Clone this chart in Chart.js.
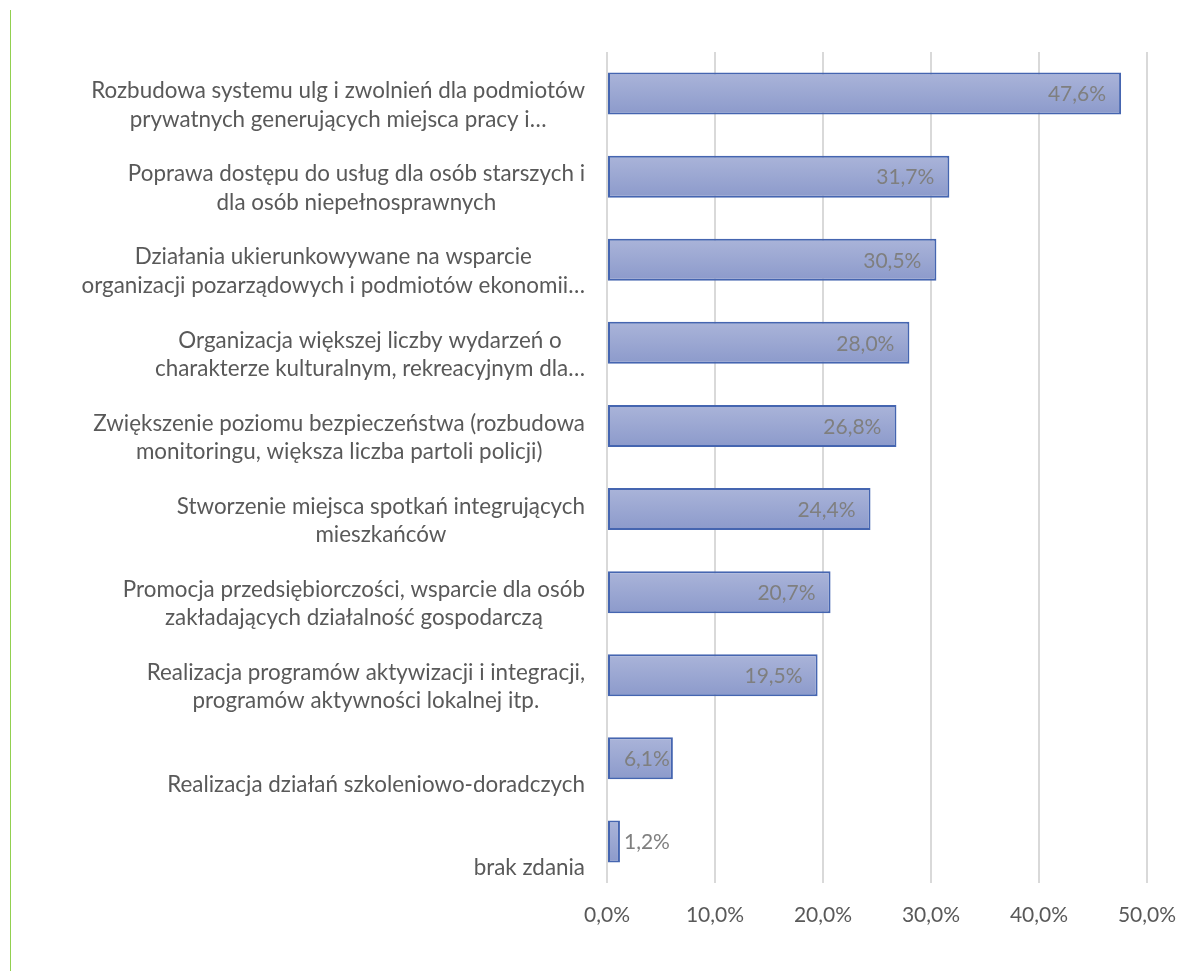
<!DOCTYPE html>
<html lang="pl">
<head>
<meta charset="utf-8">
<title>Wykres</title>
<script src="https://cdn.jsdelivr.net/npm/chart.js@4.4.1/dist/chart.umd.min.js"></script>
<style>
  html, body { margin: 0; padding: 0; background: #fff; }
  #wrap { position: relative; width: 1177px; height: 971px; }
  #edge { position: absolute; left: 10px; top: 10px; width: 0; height: 961px; border-left: 1px solid #92d050; }
  canvas { position: absolute; left: 0; top: 0; }
</style>
</head>
<body>
<div id="wrap">
  <div id="edge"></div>
  <canvas id="chart" width="1177" height="971"></canvas>
</div>
<script>
// ── Data ──────────────────────────────────────────────────
const categories = [
  ['Rozbudowa systemu ulg i zwolnień dla podmiotów', 'prywatnych generujących miejsca pracy i…'],
  ['Poprawa dostępu do usług dla osób starszych i', 'dla osób niepełnosprawnych'],
  ['Działania ukierunkowywane na wsparcie', 'organizacji pozarządowych i podmiotów ekonomii…'],
  ['Organizacja większej liczby wydarzeń o', 'charakterze kulturalnym, rekreacyjnym dla…'],
  ['Zwiększenie poziomu bezpieczeństwa (rozbudowa', 'monitoringu, większa liczba partoli policji)'],
  ['Stworzenie miejsca spotkań integrujących', 'mieszkańców'],
  ['Promocja przedsiębiorczości, wsparcie dla osób', 'zakładających działalność gospodarczą'],
  ['Realizacja programów aktywizacji i integracji,', 'programów aktywności lokalnej itp.'],
  ['Realizacja działań szkoleniowo-doradczych'],
  ['brak zdania'],
];
const values = [47.6, 31.7, 30.5, 28.0, 26.8, 24.4, 20.7, 19.5, 6.1, 1.2];
const axisMax = 50;
const axisStep = 10;

const FONT = 'Lato, "Open Sans", sans-serif';
const CAT_SIZE = 22.4;
const NUM_SIZE = 21;
const TEXT = '#595959';
const LABEL = '#7f7f7f';

function fmtPct(v) {
  return v.toFixed(1).replace('.', ',') + '%';
}

// ── Plugins ───────────────────────────────────────────────
// category labels: block right-aligned to the axis, lines centred inside it
const categoryLabels = {
  id: 'categoryLabels',
  afterDraw(chart) {
    const { ctx, scales: { y } } = chart;
    const right = chart.chartArea.left - 22;
    const lh = 28.5;
    ctx.save();
    ctx.font = `${CAT_SIZE}px ${FONT}`;
    ctx.fillStyle = TEXT;
    ctx.textAlign = 'center';
    ctx.textBaseline = 'middle';
    categories.forEach((lines, i) => {
      const yc = y.getPixelForValue(i);
      const w = Math.max(...lines.map(l => ctx.measureText(l).width));
      const cx = right - w / 2;
      const last = yc + 26;
      lines.forEach((l, j) => {
        ctx.fillText(l, cx, last - (lines.length - 1 - j) * lh);
      });
    });
    ctx.restore();
  }
};

// value labels at the end of the bars
const valueLabels = {
  id: 'valueLabels',
  afterDatasetsDraw(chart) {
    const { ctx } = chart;
    const meta = chart.getDatasetMeta(0);
    ctx.save();
    ctx.font = `${NUM_SIZE}px ${FONT}`;
    ctx.fillStyle = LABEL;
    ctx.textBaseline = 'middle';
    meta.data.forEach((bar, i) => {
      const txt = fmtPct(values[i]);
      const w = ctx.measureText(txt).width;
      const len = bar.x - bar.base;
      if (len >= w + 30) {
        ctx.textAlign = 'right';
        ctx.fillText(txt, bar.x - 15, bar.y + 1);
      } else if (len >= w + 6) {
        ctx.textAlign = 'right';
        ctx.fillText(txt, bar.x - 3, bar.y + 1);
      } else {
        ctx.textAlign = 'left';
        ctx.fillText(txt, bar.x + 4, bar.y + 1);
      }
    });
    ctx.restore();
  }
};

function barFill(c) {
  const chart = c.chart;
  if (!chart.chartArea) return '#9ba7d2';
  const y = chart.scales.y;
  const yc = y.getPixelForValue(c.dataIndex);
  const h = 42;
  const g = chart.ctx.createLinearGradient(0, yc - h / 2, 0, yc + h / 2);
  g.addColorStop(0, '#aab4d9');
  g.addColorStop(1, '#8c9acb');
  return g;
}

// ── Chart ─────────────────────────────────────────────────
new Chart(document.getElementById('chart'), {
  type: 'bar',
  data: {
    labels: categories,
    datasets: [{
      data: values,
      backgroundColor: barFill,
      borderColor: '#4565b0',
      borderWidth: 2,
      borderSkipped: false,
      categoryPercentage: 1,
      barPercentage: 0.505,
    }],
  },
  options: {
    indexAxis: 'y',
    responsive: false,
    animation: false,
    layout: { padding: { left: 0, right: 30, top: 52, bottom: 0 } },
    plugins: { legend: { display: false }, tooltip: { enabled: false } },
    scales: {
      x: {
        min: 0, max: axisMax,
        ticks: {
          stepSize: axisStep,
          padding: 0,
          color: TEXT,
          font: { family: FONT, size: NUM_SIZE },
          callback: v => fmtPct(v),
        },
        grid: { color: '#d9d9d9', lineWidth: 2, drawTicks: true, tickLength: 20, tickColor: 'rgba(0,0,0,0)' },
        border: { display: false },
        afterFit: s => { s.height = 88; },
      },
      y: {
        ticks: { display: false },
        grid: { display: false },
        border: { display: false },
        afterFit: s => { s.width = 607; },
      },
    },
  },
  plugins: [categoryLabels, valueLabels],
});
</script>
</body>
</html>
